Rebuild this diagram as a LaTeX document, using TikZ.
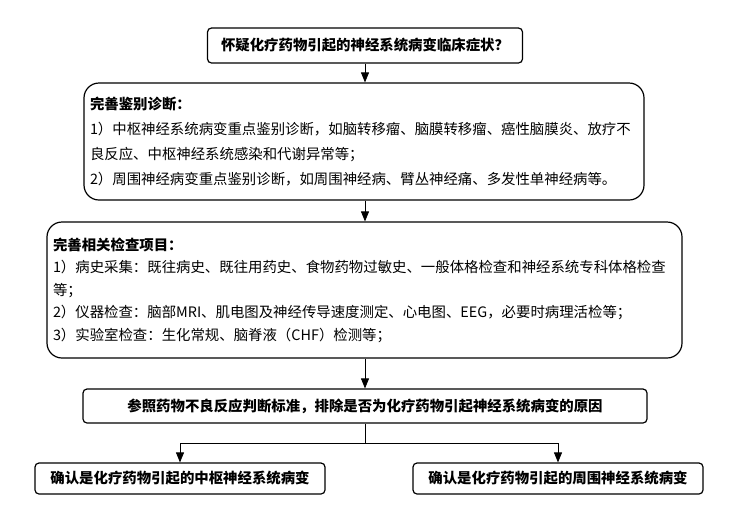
\documentclass[tikz,border=0pt]{standalone}
\usepackage{fontspec}
\newfontfamily\cjk{Noto Sans CJK SC}
\usetikzlibrary{arrows.meta}

\begin{document}
\begin{tikzpicture}[x=1pt,y=-1pt,
        box/.style={draw,line width=1.2pt,rounded corners=4pt,inner sep=0pt,
            font=\cjk\bfseries\fontsize{14.4}{17}\selectfont},
        bigbox/.style={draw,line width=1.2pt,rounded corners=15pt,align=left,
            inner xsep=6pt,inner ysep=0pt},
        arr/.style={line width=0.8pt,-{Triangle[width=8pt,length=10pt]}}]
            \useasboundingbox (0,0) rectangle (741,515);
            \node[box,minimum width=315pt,minimum height=35pt] (suspect) at (365,45.5)
                {怀疑化疗药物引起的神经系统病变临床症状？};
            \node[bigbox,minimum width=560pt,minimum height=117pt,text width=548pt,
                font=\cjk\fontsize{14.4}{24.7}\selectfont] (diffdiag) at (364,141.5)
                {{\bfseries 完善鉴别诊断：}\\
                 1）中枢神经系统病变重点鉴别诊断，如脑转移瘤、脑膜转移瘤、癌性脑膜炎、放疗不\\
                 良反应、中枢神经系统感染和代谢异常等；\\
                 2）周围神经病变重点鉴别诊断，如周围神经病、臂丛神经痛、多发性单神经病等。};
            \node[bigbox,minimum width=635pt,minimum height=136pt,text width=623pt,
                font=\cjk\fontsize{14.4}{22.5}\selectfont] (checks) at (364.5,290)
                {{\bfseries 完善相关检查项目：}\\
                 1）病史采集：既往病史、既往用药史、食物药物过敏史、一般体格检查和神经系统专科体格检查\\
                 等；\\
                 2）仪器检查：脑部MRI、肌电图及神经传导速度测定、心电图、EEG，必要时病理活检等；\\
                 3）实验室检查：生化常规、脑脊液（CHF）检测等；};
            \node[box,minimum width=564pt,minimum height=34pt] (criteria) at (365,406)
                {参照药物不良反应判断标准，排除是否为化疗药物引起神经系统病变的原因};
            \node[box,minimum width=290pt,minimum height=31pt] (central) at (180,478.5)
                {确认是化疗药物引起的中枢神经系统病变};
            \node[box,minimum width=290pt,minimum height=31pt] (peripheral) at (558,478.5)
                {确认是化疗药物引起的周围神经系统病变};
            \coordinate (fork) at (365,443);
            \draw[arr] (suspect.south) -- (suspect.south |- diffdiag.north);
            \draw[arr] (suspect.south |- diffdiag.south) -- (suspect.south |- checks.north);
            \draw[arr] (suspect.south |- checks.south) -- (criteria.north);
            \draw[line width=0.8pt] (criteria.south) -- (fork);
            \draw[arr] (fork) -| (central.north);
            \draw[arr] (fork) -| (peripheral.north);
        \end{tikzpicture}
\end{document}
